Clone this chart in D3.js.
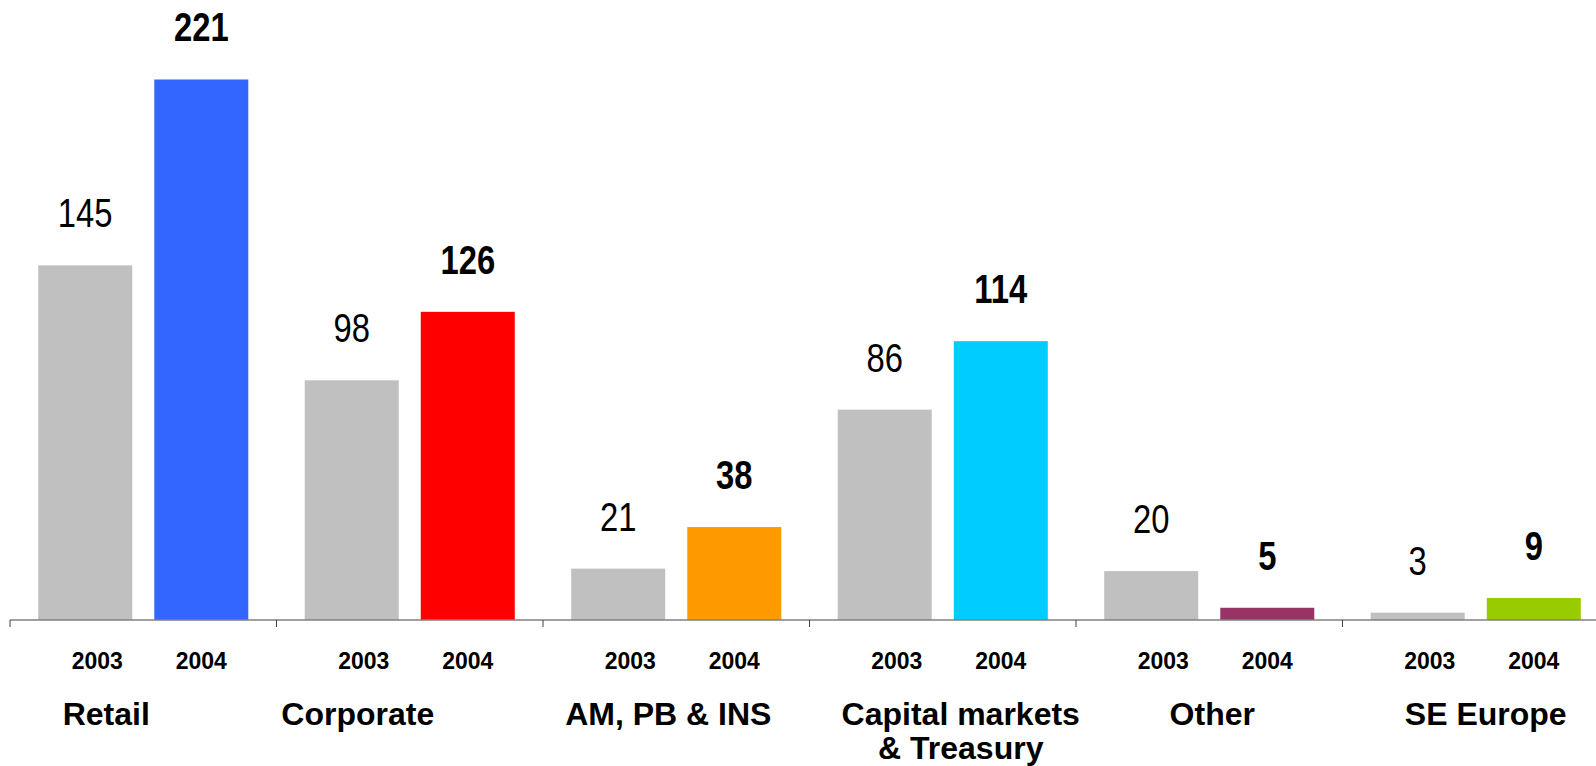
<!DOCTYPE html>
<html>
<head>
<meta charset="utf-8">
<script src="https://cdn.jsdelivr.net/npm/d3@7"></script>
<style>
  body { margin: 0; background: #fff; }
  svg { display: block; font-family: "Liberation Sans", Arial, sans-serif; }
  .axis-line { stroke: #808080; stroke-width: 1.5; }
  .axis-tick { stroke: #404040; stroke-width: 1; }
  .year-label { font-size: 23px; font-weight: bold; fill: #000; }
  .cat-label { font-size: 32px; font-weight: bold; fill: #000; }
  .value-label { font-size: 40px; fill: #000; }
  .value-label.bold { font-weight: bold; }
</style>
</head>
<body>
<div id="chart"></div>
<script>
// data
var categories = ["Retail", "Corporate", "AM, PB & INS", "Capital markets\n& Treasury", "Other", "SE Europe"];
var years = ["2003", "2004"];
var values2003 = [145, 98, 21, 86, 20, 3];
var values2004 = [221, 126, 38, 114, 5, 9];
var colors2004 = ["#3366FF", "#FF0000", "#FF9900", "#00CCFF", "#993366", "#99CC00"];

var width = 1596,
  height = 766;

var margins = { left: 10, baseline: 620 };

// label nudges (text boxes in the original are not centred)
var catLabelDx = [-37, -52, -8, 18, 3, 10];
var yearLabelDx = { "2003": 12, "2004": 0 };

var data = categories.map(function (c, i) {
  return {
    cat: c,
    bars: [
      { year: "2003", value: values2003[i], color: "#C0C0C0", bold: false },
      { year: "2004", value: values2004[i], color: colors2004[i], bold: true },
    ],
  };
});

var band = 266.5;

var x0 = d3
  .scaleBand()
  .domain(categories)
  .range([margins.left, margins.left + band * categories.length])
  .padding(0);

var x1 = d3
  .scaleBand()
  .domain(years)
  .range([0, x0.bandwidth()])
  .paddingInner(0.19)
  .paddingOuter(0.243);

var y = d3.scaleLinear().domain([0, 253.5]).range([margins.baseline, 0]);

var svg = d3
  .select("#chart")
  .append("svg")
  .attr("width", width)
  .attr("height", height)
  .attr("viewBox", [0, 0, width, height]);

var groups = svg
  .selectAll("g.cat")
  .data(data)
  .enter()
  .append("g")
  .attr("class", "cat")
  .attr("transform", (d) => "translate(" + x0(d.cat) + ",0)");

// bars
groups
  .selectAll("rect")
  .data((d) => d.bars)
  .enter()
  .append("rect")
  .attr("x", (d) => x1(d.year))
  .attr("width", x1.bandwidth())
  .attr("y", (d) => y(d.value))
  .attr("height", (d) => y(0) - y(d.value))
  .attr("fill", (d) => d.color);

// value labels (narrow face)
groups
  .selectAll("g.value")
  .data((d) => d.bars)
  .enter()
  .append("g")
  .attr("class", "value")
  .attr(
    "transform",
    (d) =>
      "translate(" + (x1(d.year) + x1.bandwidth() / 2) + "," + (y(d.value) - 38) + ") scale(0.82,1)"
  )
  .append("text")
  .attr("class", (d) => "value-label" + (d.bold ? " bold" : ""))
  .attr("text-anchor", "middle")
  .text((d) => d.value);

// axis line
svg
  .append("line")
  .attr("class", "axis-line")
  .attr("x1", x0.range()[0])
  .attr("x2", x0.range()[1])
  .attr("y1", y(0))
  .attr("y2", y(0));

// category separator ticks
svg
  .selectAll("line.axis-tick")
  .data(categories.concat(["end"]))
  .enter()
  .append("line")
  .attr("class", "axis-tick")
  .attr("x1", (d, i) => x0.range()[0] + i * x0.step())
  .attr("x2", (d, i) => x0.range()[0] + i * x0.step())
  .attr("y1", y(0))
  .attr("y2", y(0) + 7);

// year labels
groups
  .selectAll("text.year-label")
  .data((d) => d.bars)
  .enter()
  .append("text")
  .attr("class", "year-label")
  .attr("text-anchor", "middle")
  .attr("x", (d) => x1(d.year) + x1.bandwidth() / 2 + yearLabelDx[d.year])
  .attr("y", 669)
  .text((d) => d.year);

// category labels
groups
  .append("text")
  .attr("class", "cat-label")
  .attr("text-anchor", "middle")
  .attr("y", 725)
  .selectAll("tspan")
  .data((d, i) => d.cat.split("\n").map((t) => ({ t: t, dx: catLabelDx[i] })))
  .enter()
  .append("tspan")
  .attr("x", (d) => x0.bandwidth() / 2 + d.dx)
  .attr("dy", (d, i) => (i === 0 ? 0 : 34))
  .text((d) => d.t);
</script>
</body>
</html>
